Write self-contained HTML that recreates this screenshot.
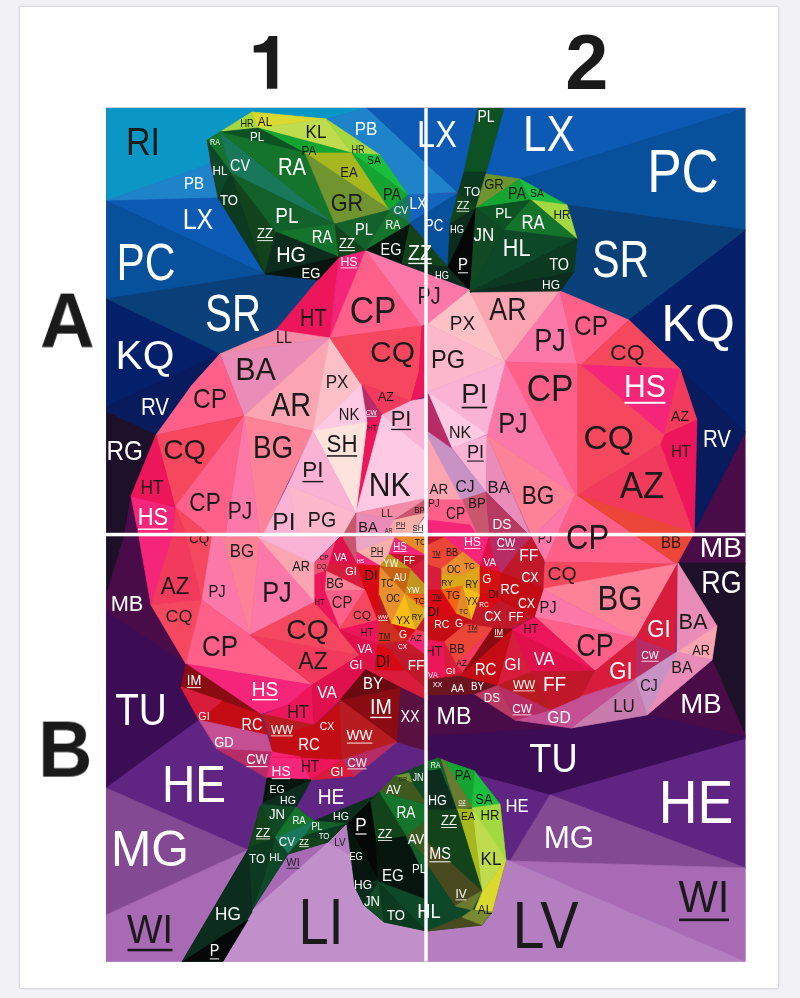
<!DOCTYPE html>
<html><head><meta charset="utf-8"><title>Polygon flower</title>
<style>
html,body{margin:0;padding:0;background:#f1f1f6;}
body{width:800px;height:998px;overflow:hidden;position:relative;font-family:"Liberation Sans",sans-serif;}
#page{position:absolute;left:20px;top:7px;width:758px;height:981px;background:#fff;box-shadow:0 0 2.5px rgba(0,0,40,0.28);}
svg{position:absolute;left:0;top:0;will-change:transform;}
text{font-family:"Liberation Sans",sans-serif;text-anchor:middle;}
.b{font-weight:bold;fill:#1a1a1a;}
</style></head><body>
<div id="page"></div>
<svg width="800" height="998" viewBox="0 0 800 998">
<defs><clipPath id="cl"><rect x="106.2" y="107.8" width="639.1" height="853.6"/></clipPath></defs>
<rect x="106.2" y="107.8" width="639.1" height="853.6" fill="#602583"/>
<g clip-path="url(#cl)">
<polygon points="106,108 256,108 252,112 220,132 207,140 210,164 106,201" fill="#0b97c5" stroke="#0b97c5" stroke-width="0.7" stroke-linejoin="round"/>
<polygon points="250,113 256,108 367,108 326,119" fill="#0b97c5" stroke="#0b97c5" stroke-width="0.7" stroke-linejoin="round"/>
<polygon points="210,164 218,198 106,201" fill="#1e83c9" stroke="#1e83c9" stroke-width="0.7" stroke-linejoin="round"/>
<polygon points="106,201 218,198 265,274" fill="#0d5ab4" stroke="#0d5ab4" stroke-width="0.7" stroke-linejoin="round"/>
<polygon points="106,201 265,274 106,299" fill="#07509b" stroke="#07509b" stroke-width="0.7" stroke-linejoin="round"/>
<polygon points="106,299 265,274 318,280 276,330 220,354" fill="#0a4079" stroke="#0a4079" stroke-width="0.7" stroke-linejoin="round"/>
<polygon points="106,299 220,354 106,407" fill="#05206a" stroke="#05206a" stroke-width="0.7" stroke-linejoin="round"/>
<polygon points="106,407 220,354 192,385 156,435 106,412" fill="#071b5d" stroke="#071b5d" stroke-width="0.7" stroke-linejoin="round"/>
<polygon points="106,412 156,435 131,496 124,537 106,537" fill="#1c1128" stroke="#1c1128" stroke-width="0.7" stroke-linejoin="round"/>
<polygon points="131,496 139,537 124,537" fill="#4a0b49" stroke="#4a0b49" stroke-width="0.7" stroke-linejoin="round"/>
<polygon points="326,119 367,108 457,192 408,195 380,155" fill="#1e83c9" stroke="#1e83c9" stroke-width="0.7" stroke-linejoin="round"/>
<polygon points="367,108 478,108 460,190 457,192" fill="#0d5ab4" stroke="#0d5ab4" stroke-width="0.7" stroke-linejoin="round"/>
<polygon points="408,195 458,193 410,223" fill="#1565bf" stroke="#1565bf" stroke-width="0.7" stroke-linejoin="round"/>
<polygon points="458,193 450,224 448,267 410,223" fill="#07509b" stroke="#07509b" stroke-width="0.7" stroke-linejoin="round"/>
<polygon points="504,108 746,108 520,179 486,174" fill="#0d5ab4" stroke="#0d5ab4" stroke-width="0.7" stroke-linejoin="round"/>
<polygon points="520,179 746,108 746,230 567,205" fill="#07509b" stroke="#07509b" stroke-width="0.7" stroke-linejoin="round"/>
<polygon points="567,205 746,230 629,320 560,291 574,272 577,239" fill="#0a4079" stroke="#0a4079" stroke-width="0.7" stroke-linejoin="round"/>
<polygon points="746,230 746,432 680,369 629,320" fill="#05206a" stroke="#05206a" stroke-width="0.7" stroke-linejoin="round"/>
<polygon points="680,369 746,432 695,532 697,420" fill="#071b5d" stroke="#071b5d" stroke-width="0.7" stroke-linejoin="round"/>
<polygon points="746,432 746,564 678,564 692,536 695,532" fill="#4a0b49" stroke="#4a0b49" stroke-width="0.7" stroke-linejoin="round"/>
<polygon points="678,563 746,563 746,737 712,660 717,626" fill="#1c1128" stroke="#1c1128" stroke-width="0.7" stroke-linejoin="round"/>
<polygon points="647,715 712,660 746,737" fill="#4a0b49" stroke="#4a0b49" stroke-width="0.7" stroke-linejoin="round"/>
<polygon points="426,694 474,694 515,720 570,727 426,737" fill="#4a0b49" stroke="#4a0b49" stroke-width="0.7" stroke-linejoin="round"/>
<polygon points="426,737 570,727 647,715 746,737 746,739 550,795 480,776 438,758 426,762" fill="#3c0d54" stroke="#3c0d54" stroke-width="0.7" stroke-linejoin="round"/>
<polygon points="550,795 746,739 746,868" fill="#602583" stroke="#602583" stroke-width="0.7" stroke-linejoin="round"/>
<polygon points="475,772 480,776 550,795 510,861 500,804" fill="#602583" stroke="#602583" stroke-width="0.7" stroke-linejoin="round"/>
<polygon points="550,795 746,868 510,861" fill="#834a93" stroke="#834a93" stroke-width="0.7" stroke-linejoin="round"/>
<polygon points="510,861 746,868 746,962" fill="#a869b5" stroke="#a869b5" stroke-width="0.7" stroke-linejoin="round"/>
<polygon points="510,861 746,962 426,962 426,920 482,925 492,912 506,860" fill="#b57ec1" stroke="#b57ec1" stroke-width="0.7" stroke-linejoin="round"/>
<polygon points="106,537 124,537 108,590 106,590" fill="#1c1128" stroke="#1c1128" stroke-width="0.7" stroke-linejoin="round"/>
<polygon points="124,537 139,537 151,605 186,664 106,612 106,590 108,590" fill="#4a0b49" stroke="#4a0b49" stroke-width="0.7" stroke-linejoin="round"/>
<polygon points="106,612 186,664 181,687 199,720 106,788" fill="#3c0d54" stroke="#3c0d54" stroke-width="0.7" stroke-linejoin="round"/>
<polygon points="199,720 217,749 267,778 263,803 260,807 249,848 106,788" fill="#602583" stroke="#602583" stroke-width="0.7" stroke-linejoin="round"/>
<polygon points="106,788 248,850 106,915" fill="#834a93" stroke="#834a93" stroke-width="0.7" stroke-linejoin="round"/>
<polygon points="106,915 248,850 182,962 106,962" fill="#a869b5" stroke="#a869b5" stroke-width="0.7" stroke-linejoin="round"/>
<polygon points="222.5,962 252,910 275,868 346,824 352,856 355,887 364,905 384,922 427,931 427,962" fill="#c190ca" stroke="#c190ca" stroke-width="0.7" stroke-linejoin="round"/>
<polygon points="288,854 328,842 252,910 270,872" fill="#a869b5" stroke="#a869b5" stroke-width="0.7" stroke-linejoin="round"/>
<polygon points="328,842 346,824 352,856" fill="#b57ec1" stroke="#b57ec1" stroke-width="0.7" stroke-linejoin="round"/>
<polygon points="311,780 355,776 397,742 428,751 428,764 395,776 379,792 372,797 349,822 314,821 296,807" fill="#602583" stroke="#602583" stroke-width="0.7" stroke-linejoin="round"/>
<polygon points="339,257 318,280 276,330 330,338" fill="#ee165a" stroke="#ee165a" stroke-width="0.7" stroke-linejoin="round"/>
<polygon points="339,257 366,250 330,338" fill="#f5257a" stroke="#f5257a" stroke-width="0.7" stroke-linejoin="round"/>
<polygon points="276,330 330,338 220,354" fill="#f48ca8" stroke="#f48ca8" stroke-width="0.7" stroke-linejoin="round"/>
<polygon points="220,354 330,338 244,416" fill="#e98db8" stroke="#e98db8" stroke-width="0.7" stroke-linejoin="round"/>
<polygon points="330,338 244,416 313,431" fill="#fca5b2" stroke="#fca5b2" stroke-width="0.7" stroke-linejoin="round"/>
<polygon points="330,338 361,384 313,431" fill="#fdc0c6" stroke="#fdc0c6" stroke-width="0.7" stroke-linejoin="round"/>
<polygon points="220,354 244,416 156,435 192,385" fill="#ff608a" stroke="#ff608a" stroke-width="0.7" stroke-linejoin="round"/>
<polygon points="156,435 244,416 175,507" fill="#f5485f" stroke="#f5485f" stroke-width="0.7" stroke-linejoin="round"/>
<polygon points="244,416 313,431 287,484 262,537 260,537" fill="#fd8297" stroke="#fd8297" stroke-width="0.7" stroke-linejoin="round"/>
<polygon points="288,485 300,537 262,537" fill="#fbb3d5" stroke="#fbb3d5" stroke-width="0.7" stroke-linejoin="round"/>
<polygon points="288,485 356,513 342,537 300,537" fill="#fdb7ca" stroke="#fdb7ca" stroke-width="0.7" stroke-linejoin="round"/>
<polygon points="244,416 260,537 225,537" fill="#fc78a8" stroke="#fc78a8" stroke-width="0.7" stroke-linejoin="round"/>
<polygon points="244,416 175,507 212,537 225,537" fill="#ff608a" stroke="#ff608a" stroke-width="0.7" stroke-linejoin="round"/>
<polygon points="175,507 212,537 187,537" fill="#f5485f" stroke="#f5485f" stroke-width="0.7" stroke-linejoin="round"/>
<polygon points="175,507 187,537 172,537" fill="#f23a5c" stroke="#f23a5c" stroke-width="0.7" stroke-linejoin="round"/>
<polygon points="131,496 175,507 172,537 139,537" fill="#f5257a" stroke="#f5257a" stroke-width="0.7" stroke-linejoin="round"/>
<polygon points="156,435 131,496 175,507" fill="#ee165a" stroke="#ee165a" stroke-width="0.7" stroke-linejoin="round"/>
<polygon points="366,250 330,338 422,326" fill="#ff608a" stroke="#ff608a" stroke-width="0.7" stroke-linejoin="round"/>
<polygon points="366,250 402,264 470,290 428,324 422,326" fill="#fc78a8" stroke="#fc78a8" stroke-width="0.7" stroke-linejoin="round"/>
<polygon points="330,338 422,326 419,372 411,401 361,384" fill="#f5485f" stroke="#f5485f" stroke-width="0.7" stroke-linejoin="round"/>
<polygon points="422,326 428,324 428,395 411,401 419,372" fill="#ee165a" stroke="#ee165a" stroke-width="0.7" stroke-linejoin="round"/>
<polygon points="361,384 411,401 382,415" fill="#f23a5c" stroke="#f23a5c" stroke-width="0.7" stroke-linejoin="round"/>
<polygon points="361,384 382,415 367,422" fill="#b82c66" stroke="#b82c66" stroke-width="0.7" stroke-linejoin="round"/>
<polygon points="361,384 367,422 313,431" fill="#fdc9e3" stroke="#fdc9e3" stroke-width="0.7" stroke-linejoin="round"/>
<polygon points="367,422 382,415 356,513" fill="#ee165a" stroke="#ee165a" stroke-width="0.7" stroke-linejoin="round"/>
<polygon points="313,431 367,422 356,513" fill="#fde3dc" stroke="#fde3dc" stroke-width="0.7" stroke-linejoin="round"/>
<polygon points="313,431 356,513 288,485" fill="#fbb3d5" stroke="#fbb3d5" stroke-width="0.7" stroke-linejoin="round"/>
<polygon points="382,415 411,401 428,398 428,452 418,445" fill="#fbb3d5" stroke="#fbb3d5" stroke-width="0.7" stroke-linejoin="round"/>
<polygon points="382,415 418,445 428,452 428,498 356,513" fill="#fdc9e3" stroke="#fdc9e3" stroke-width="0.7" stroke-linejoin="round"/>
<polygon points="356,513 428,498 394,520" fill="#f48ca8" stroke="#f48ca8" stroke-width="0.7" stroke-linejoin="round"/>
<polygon points="428,498 394,520 428,513" fill="#c8566e" stroke="#c8566e" stroke-width="0.7" stroke-linejoin="round"/>
<polygon points="356,513 394,520 384,537 356,537" fill="#e98db8" stroke="#e98db8" stroke-width="0.7" stroke-linejoin="round"/>
<polygon points="356,513 356,537 342,537" fill="#c8566e" stroke="#c8566e" stroke-width="0.7" stroke-linejoin="round"/>
<polygon points="394,520 384,537 395,537" fill="#fca5b2" stroke="#fca5b2" stroke-width="0.7" stroke-linejoin="round"/>
<polygon points="394,520 395,537 410,537 426,513" fill="#f9b0a8" stroke="#f9b0a8" stroke-width="0.7" stroke-linejoin="round"/>
<polygon points="428,513 410,537 428,537" fill="#fde3dc" stroke="#fde3dc" stroke-width="0.7" stroke-linejoin="round"/>
<polygon points="470,290 428,324 505,362" fill="#fdc0c6" stroke="#fdc0c6" stroke-width="0.7" stroke-linejoin="round"/>
<polygon points="428,324 505,362 428,392" fill="#fdb7ca" stroke="#fdb7ca" stroke-width="0.7" stroke-linejoin="round"/>
<polygon points="470,292 560,291 505,362" fill="#fca5b2" stroke="#fca5b2" stroke-width="0.7" stroke-linejoin="round"/>
<polygon points="560,291 577,364 505,362" fill="#fc78a8" stroke="#fc78a8" stroke-width="0.7" stroke-linejoin="round"/>
<polygon points="560,291 629,320 581,365 577,364" fill="#ff608a" stroke="#ff608a" stroke-width="0.7" stroke-linejoin="round"/>
<polygon points="629,320 680,369 581,365" fill="#f5485f" stroke="#f5485f" stroke-width="0.7" stroke-linejoin="round"/>
<polygon points="581,365 680,369 664,435" fill="#f5257a" stroke="#f5257a" stroke-width="0.7" stroke-linejoin="round"/>
<polygon points="680,369 697,420 664,435" fill="#f23a5c" stroke="#f23a5c" stroke-width="0.7" stroke-linejoin="round"/>
<polygon points="664,435 697,420 694,535 660,444" fill="#ee165a" stroke="#ee165a" stroke-width="0.7" stroke-linejoin="round"/>
<polygon points="660,444 694,535 577,495" fill="#f23a5c" stroke="#f23a5c" stroke-width="0.7" stroke-linejoin="round"/>
<polygon points="581,365 664,435 660,444 577,495 577,364" fill="#f5485f" stroke="#f5485f" stroke-width="0.7" stroke-linejoin="round"/>
<polygon points="505,362 577,364 577,495 575,495" fill="#ff608a" stroke="#ff608a" stroke-width="0.7" stroke-linejoin="round"/>
<polygon points="505,362 575,495 487,435" fill="#fc78a8" stroke="#fc78a8" stroke-width="0.7" stroke-linejoin="round"/>
<polygon points="505,362 428,392 487,434" fill="#fbb3d5" stroke="#fbb3d5" stroke-width="0.7" stroke-linejoin="round"/>
<polygon points="428,392 487,434 452,449" fill="#fdc9e3" stroke="#fdc9e3" stroke-width="0.7" stroke-linejoin="round"/>
<polygon points="487,435 486,492 452,448" fill="#fbb3d5" stroke="#fbb3d5" stroke-width="0.7" stroke-linejoin="round"/>
<polygon points="487,435 531,537 486,492" fill="#e98db8" stroke="#e98db8" stroke-width="0.7" stroke-linejoin="round"/>
<polygon points="487,435 575,495 532,537" fill="#fd8297" stroke="#fd8297" stroke-width="0.7" stroke-linejoin="round"/>
<polygon points="428,394 452,449 428,432" fill="#b82c66" stroke="#b82c66" stroke-width="0.7" stroke-linejoin="round"/>
<polygon points="428,432 452,449 486,492 461,500 428,438" fill="#c892c4" stroke="#c892c4" stroke-width="0.7" stroke-linejoin="round"/>
<polygon points="428,438 461,500 428,500" fill="#fca5b2" stroke="#fca5b2" stroke-width="0.7" stroke-linejoin="round"/>
<polygon points="428,500 461,500 428,512" fill="#fc78a8" stroke="#fc78a8" stroke-width="0.7" stroke-linejoin="round"/>
<polygon points="462,500 486,492 490,537 478,537" fill="#c8566e" stroke="#c8566e" stroke-width="0.7" stroke-linejoin="round"/>
<polygon points="486,492 531,537 490,537" fill="#b83a62" stroke="#b83a62" stroke-width="0.7" stroke-linejoin="round"/>
<polygon points="428,500 462,500 478,537 428,537" fill="#ff608a" stroke="#ff608a" stroke-width="0.7" stroke-linejoin="round"/>
<polygon points="428,520 470,525 478,537 428,537" fill="#f5257a" stroke="#f5257a" stroke-width="0.7" stroke-linejoin="round"/>
<polygon points="532,537 575,495 545,562" fill="#fc78a8" stroke="#fc78a8" stroke-width="0.7" stroke-linejoin="round"/>
<polygon points="575,495 577,495 677,564 545,562" fill="#ff608a" stroke="#ff608a" stroke-width="0.7" stroke-linejoin="round"/>
<polygon points="577,495 694,533 677,564" fill="#ec4638" stroke="#ec4638" stroke-width="0.7" stroke-linejoin="round"/>
<polygon points="545,562 677,564 542,589" fill="#f5485f" stroke="#f5485f" stroke-width="0.7" stroke-linejoin="round"/>
<polygon points="542,589 677,564 636,638" fill="#fd8297" stroke="#fd8297" stroke-width="0.7" stroke-linejoin="round"/>
<polygon points="542,589 636,638 535,617" fill="#fc78a8" stroke="#fc78a8" stroke-width="0.7" stroke-linejoin="round"/>
<polygon points="535,617 636,638 595,671" fill="#ff608a" stroke="#ff608a" stroke-width="0.7" stroke-linejoin="round"/>
<polygon points="535,617 512,630 595,671" fill="#ee165a" stroke="#ee165a" stroke-width="0.7" stroke-linejoin="round"/>
<polygon points="512,630 595,671 530,672" fill="#e0104c" stroke="#e0104c" stroke-width="0.7" stroke-linejoin="round"/>
<polygon points="678,563 675,653 636,638" fill="#d81c3c" stroke="#d81c3c" stroke-width="0.7" stroke-linejoin="round"/>
<polygon points="636,638 675,653 635,679" fill="#b82c66" stroke="#b82c66" stroke-width="0.7" stroke-linejoin="round"/>
<polygon points="636,638 635,679 580,697 595,671" fill="#d81c3c" stroke="#d81c3c" stroke-width="0.7" stroke-linejoin="round"/>
<polygon points="678,563 717,626 677,652" fill="#e98db8" stroke="#e98db8" stroke-width="0.7" stroke-linejoin="round"/>
<polygon points="717,626 712,660 677,652" fill="#fca5b2" stroke="#fca5b2" stroke-width="0.7" stroke-linejoin="round"/>
<polygon points="677,652 712,660 647,715 660,680" fill="#e98db8" stroke="#e98db8" stroke-width="0.7" stroke-linejoin="round"/>
<polygon points="635,679 675,653 677,652 647,715" fill="#c892c4" stroke="#c892c4" stroke-width="0.7" stroke-linejoin="round"/>
<polygon points="571,728 635,679 647,715" fill="#c87cae" stroke="#c87cae" stroke-width="0.7" stroke-linejoin="round"/>
<polygon points="515,720 550,710 580,697 635,679 571,728" fill="#c44f92" stroke="#c44f92" stroke-width="0.7" stroke-linejoin="round"/>
<polygon points="530,672 595,671 580,697 550,710" fill="#c01828" stroke="#c01828" stroke-width="0.7" stroke-linejoin="round"/>
<polygon points="497,685 530,672 550,710" fill="#b81c20" stroke="#b81c20" stroke-width="0.7" stroke-linejoin="round"/>
<polygon points="497,685 550,710 515,720" fill="#b82c66" stroke="#b82c66" stroke-width="0.7" stroke-linejoin="round"/>
<polygon points="474,694 497,685 515,720" fill="#b83a62" stroke="#b83a62" stroke-width="0.7" stroke-linejoin="round"/>
<polygon points="512,630 530,672 497,685" fill="#d81c3c" stroke="#d81c3c" stroke-width="0.7" stroke-linejoin="round"/>
<polygon points="512,630 497,685 462,676 490,642" fill="#c40c14" stroke="#c40c14" stroke-width="0.7" stroke-linejoin="round"/>
<polygon points="139,537 172,537 151,605" fill="#f5257a" stroke="#f5257a" stroke-width="0.7" stroke-linejoin="round"/>
<polygon points="172,537 187,537 202,600 151,605" fill="#f23a5c" stroke="#f23a5c" stroke-width="0.7" stroke-linejoin="round"/>
<polygon points="187,537 212,537 202,600" fill="#f5485f" stroke="#f5485f" stroke-width="0.7" stroke-linejoin="round"/>
<polygon points="212,537 222,537 250,635 202,600" fill="#fc78a8" stroke="#fc78a8" stroke-width="0.7" stroke-linejoin="round"/>
<polygon points="222,537 260,537 250,635" fill="#fd8297" stroke="#fd8297" stroke-width="0.7" stroke-linejoin="round"/>
<polygon points="260,537 315,602 250,635" fill="#fc78a8" stroke="#fc78a8" stroke-width="0.7" stroke-linejoin="round"/>
<polygon points="258,537 315,564 315,602" fill="#fca5b2" stroke="#fca5b2" stroke-width="0.7" stroke-linejoin="round"/>
<polygon points="258,537 340,537 315,564" fill="#fbb3d5" stroke="#fbb3d5" stroke-width="0.7" stroke-linejoin="round"/>
<polygon points="151,605 202,600 186,664" fill="#f5485f" stroke="#f5485f" stroke-width="0.7" stroke-linejoin="round"/>
<polygon points="202,600 250,635 313,685 186,664" fill="#ff608a" stroke="#ff608a" stroke-width="0.7" stroke-linejoin="round"/>
<polygon points="250,635 360,655 313,685" fill="#f23a5c" stroke="#f23a5c" stroke-width="0.7" stroke-linejoin="round"/>
<polygon points="315,602 250,635 360,655 340,630" fill="#f5485f" stroke="#f5485f" stroke-width="0.7" stroke-linejoin="round"/>
<polygon points="186,664 312,685 287,705 260,714" fill="#f5257a" stroke="#f5257a" stroke-width="0.7" stroke-linejoin="round"/>
<polygon points="186,664 181,687 260,714" fill="#8a0c12" stroke="#8a0c12" stroke-width="0.7" stroke-linejoin="round"/>
<polygon points="287,705 312,685 314,725 262,715" fill="#ee165a" stroke="#ee165a" stroke-width="0.7" stroke-linejoin="round"/>
<polygon points="312,685 360,655 366,669 340,700 314,725" fill="#e0104c" stroke="#e0104c" stroke-width="0.7" stroke-linejoin="round"/>
<polygon points="262,714 314,725 270,737" fill="#b81c20" stroke="#b81c20" stroke-width="0.7" stroke-linejoin="round"/>
<polygon points="181,687 260,714 267,735 199,720" fill="#c40c14" stroke="#c40c14" stroke-width="0.7" stroke-linejoin="round"/>
<polygon points="181,687 222,701 199,720" fill="#d81c3c" stroke="#d81c3c" stroke-width="0.7" stroke-linejoin="round"/>
<polygon points="270,737 314,725 340,702 342,760 272,757" fill="#c40c14" stroke="#c40c14" stroke-width="0.7" stroke-linejoin="round"/>
<polygon points="199,720 267,735 272,752 217,749" fill="#c44f92" stroke="#c44f92" stroke-width="0.7" stroke-linejoin="round"/>
<polygon points="217,749 272,752 267,778" fill="#b82c66" stroke="#b82c66" stroke-width="0.7" stroke-linejoin="round"/>
<polygon points="272,752 300,757 311,780 267,778" fill="#f5257a" stroke="#f5257a" stroke-width="0.7" stroke-linejoin="round"/>
<polygon points="272,757 342,760 311,780 300,757" fill="#ee165a" stroke="#ee165a" stroke-width="0.7" stroke-linejoin="round"/>
<polygon points="342,760 355,776 311,780" fill="#d81c3c" stroke="#d81c3c" stroke-width="0.7" stroke-linejoin="round"/>
<polygon points="340,700 401,687 397,742" fill="#8a0c12" stroke="#8a0c12" stroke-width="0.7" stroke-linejoin="round"/>
<polygon points="366,669 401,687 340,700" fill="#6a0a10" stroke="#6a0a10" stroke-width="0.7" stroke-linejoin="round"/>
<polygon points="340,700 397,742 342,760" fill="#b81c20" stroke="#b81c20" stroke-width="0.7" stroke-linejoin="round"/>
<polygon points="342,760 397,742 355,776" fill="#b82c66" stroke="#b82c66" stroke-width="0.7" stroke-linejoin="round"/>
<polygon points="401,685 428,690 428,751 397,742" fill="#5a1040" stroke="#5a1040" stroke-width="0.7" stroke-linejoin="round"/>
<polygon points="340,537 428,537 428,700 401,687 366,669 360,655 340,630 315,602 315,562" fill="#d81c3c" stroke="#d81c3c" stroke-width="0.7" stroke-linejoin="round"/>
<polygon points="336,541 315,562 329,564" fill="#ec4a7c" stroke="#ec4a7c" stroke-width="0.7" stroke-linejoin="round"/>
<polygon points="315,562 329,564 326,571 315,575" fill="#ec5070" stroke="#ec5070" stroke-width="0.7" stroke-linejoin="round"/>
<polygon points="342,537 356,537 357,564" fill="#c8566e" stroke="#c8566e" stroke-width="0.7" stroke-linejoin="round"/>
<polygon points="336,541 340,537 342,537 357,564 329,564" fill="#e0104c" stroke="#e0104c" stroke-width="0.7" stroke-linejoin="round"/>
<polygon points="329,564 357.5,564.5 365,590 326,571" fill="#d81c3c" stroke="#d81c3c" stroke-width="0.7" stroke-linejoin="round"/>
<polygon points="356,537 395,537 357,552" fill="#eba6c6" stroke="#eba6c6" stroke-width="0.7" stroke-linejoin="round"/>
<polygon points="395,537 357,552 380,566 389,554" fill="#f9b0a8" stroke="#f9b0a8" stroke-width="0.7" stroke-linejoin="round"/>
<polygon points="357,552 380,566 357,565" fill="#f5257a" stroke="#f5257a" stroke-width="0.7" stroke-linejoin="round"/>
<polygon points="357.5,564.5 380.5,566 378,622 365,590" fill="#d80814" stroke="#d80814" stroke-width="0.7" stroke-linejoin="round"/>
<polygon points="395,537 428,556 389,554" fill="#f5257a" stroke="#f5257a" stroke-width="0.7" stroke-linejoin="round"/>
<polygon points="395,537 428,537 428,556" fill="#e48a28" stroke="#e48a28" stroke-width="0.7" stroke-linejoin="round"/>
<polygon points="389,554 428,556 411,569" fill="#c01828" stroke="#c01828" stroke-width="0.7" stroke-linejoin="round"/>
<polygon points="389,554 411,569 380,566" fill="#c29420" stroke="#c29420" stroke-width="0.7" stroke-linejoin="round"/>
<polygon points="380,567 411,569 405,594" fill="#c86412" stroke="#c86412" stroke-width="0.7" stroke-linejoin="round"/>
<polygon points="380,567 405,594 391,624 379,595" fill="#e89030" stroke="#e89030" stroke-width="0.7" stroke-linejoin="round"/>
<polygon points="411,569 424,583 428,594 405,594" fill="#c29420" stroke="#c29420" stroke-width="0.7" stroke-linejoin="round"/>
<polygon points="428,556 411,569 424,583 428,583" fill="#d81c3c" stroke="#d81c3c" stroke-width="0.7" stroke-linejoin="round"/>
<polygon points="405,594 428,595 428,612" fill="#f56412" stroke="#f56412" stroke-width="0.7" stroke-linejoin="round"/>
<polygon points="405,594 391,624 416,630" fill="#f8bc18" stroke="#f8bc18" stroke-width="0.7" stroke-linejoin="round"/>
<polygon points="405,594 428,612 416,630" fill="#dca81a" stroke="#dca81a" stroke-width="0.7" stroke-linejoin="round"/>
<polygon points="428,612 416,630 428,633" fill="#c41c2c" stroke="#c41c2c" stroke-width="0.7" stroke-linejoin="round"/>
<polygon points="379,595 391,624 378,620" fill="#b81c20" stroke="#b81c20" stroke-width="0.7" stroke-linejoin="round"/>
<polygon points="391,624 416,630 407,641" fill="#d41010" stroke="#d41010" stroke-width="0.7" stroke-linejoin="round"/>
<polygon points="416,630 428,633 428,640 407,641" fill="#f23a5c" stroke="#f23a5c" stroke-width="0.7" stroke-linejoin="round"/>
<polygon points="378,620 391,624 407,641 378,644" fill="#d03020" stroke="#d03020" stroke-width="0.7" stroke-linejoin="round"/>
<polygon points="378,644 407,641 428,656 390,650" fill="#c41c2c" stroke="#c41c2c" stroke-width="0.7" stroke-linejoin="round"/>
<polygon points="407,641 428,640 428,656" fill="#f5257a" stroke="#f5257a" stroke-width="0.7" stroke-linejoin="round"/>
<polygon points="376,644 390,650 405,670 374,670" fill="#d80814" stroke="#d80814" stroke-width="0.7" stroke-linejoin="round"/>
<polygon points="390,650 428,656 428,690 405,670" fill="#c01828" stroke="#c01828" stroke-width="0.7" stroke-linejoin="round"/>
<polygon points="326,571 365,590 324.5,591" fill="#fd8297" stroke="#fd8297" stroke-width="0.7" stroke-linejoin="round"/>
<polygon points="324.5,591 365,590 339.4,629" fill="#ff608a" stroke="#ff608a" stroke-width="0.7" stroke-linejoin="round"/>
<polygon points="365,590 378,622 339.4,629" fill="#f5485f" stroke="#f5485f" stroke-width="0.7" stroke-linejoin="round"/>
<polygon points="339,630 378,620 377,644" fill="#ee165a" stroke="#ee165a" stroke-width="0.7" stroke-linejoin="round"/>
<polygon points="339,630 377,644 374,670 361,657" fill="#e0104c" stroke="#e0104c" stroke-width="0.7" stroke-linejoin="round"/>
<polygon points="315,575 326,571 324.5,591 339.4,629 315,603" fill="#ee165a" stroke="#ee165a" stroke-width="0.7" stroke-linejoin="round"/>
<polygon points="428,537 531,537 544,560 543,590 534,617 513,628 490,642 462,676 428,680" fill="#c01828" stroke="#c01828" stroke-width="0.7" stroke-linejoin="round"/>
<polygon points="428,680 462,676 497,685 474,694 428,695" fill="#6c1420" stroke="#6c1420" stroke-width="0.7" stroke-linejoin="round"/>
<polygon points="428,545 445,537 463,552 441,569 428,565" fill="#ec4638" stroke="#ec4638" stroke-width="0.7" stroke-linejoin="round"/>
<polygon points="445,537 489,537 480,566 463,552" fill="#f5257a" stroke="#f5257a" stroke-width="0.7" stroke-linejoin="round"/>
<polygon points="489,537 531,537 516,553 501,573 492,553" fill="#b82c66" stroke="#b82c66" stroke-width="0.7" stroke-linejoin="round"/>
<polygon points="489,537 492,553 501,573 480,566" fill="#e0104c" stroke="#e0104c" stroke-width="0.7" stroke-linejoin="round"/>
<polygon points="463,552 467,576 441,574 441,569" fill="#e89030" stroke="#e89030" stroke-width="0.7" stroke-linejoin="round"/>
<polygon points="463,552 480,566 466,573" fill="#e48a28" stroke="#e48a28" stroke-width="0.7" stroke-linejoin="round"/>
<polygon points="441,574 467,576 462,588 441,590" fill="#dca81a" stroke="#dca81a" stroke-width="0.7" stroke-linejoin="round"/>
<polygon points="466,573 480,566 480,594 463,587" fill="#dca81a" stroke="#dca81a" stroke-width="0.7" stroke-linejoin="round"/>
<polygon points="441,590 462,586 460,611 456,614" fill="#f56412" stroke="#f56412" stroke-width="0.7" stroke-linejoin="round"/>
<polygon points="463,587 480,594 471,620 466,600" fill="#f8bc18" stroke="#f8bc18" stroke-width="0.7" stroke-linejoin="round"/>
<polygon points="462,586 466,600 471,620 456,614" fill="#e48a28" stroke="#e48a28" stroke-width="0.7" stroke-linejoin="round"/>
<polygon points="480,566 501,573 498,593 480,594" fill="#d41010" stroke="#d41010" stroke-width="0.7" stroke-linejoin="round"/>
<polygon points="428,565 441,569 441,590 428,590" fill="#d81c3c" stroke="#d81c3c" stroke-width="0.7" stroke-linejoin="round"/>
<polygon points="428,590 441,590 456,614 428,625" fill="#d80814" stroke="#d80814" stroke-width="0.7" stroke-linejoin="round"/>
<polygon points="428,625 456,614 471,620 450,640 428,645" fill="#c40c14" stroke="#c40c14" stroke-width="0.7" stroke-linejoin="round"/>
<polygon points="444,642 466,624 493,628 456,664" fill="#ec4638" stroke="#ec4638" stroke-width="0.7" stroke-linejoin="round"/>
<polygon points="428,640 444,642 446,676 428,678" fill="#ee165a" stroke="#ee165a" stroke-width="0.7" stroke-linejoin="round"/>
<polygon points="444,642 456,664 463,672 446,676" fill="#d81c3c" stroke="#d81c3c" stroke-width="0.7" stroke-linejoin="round"/>
<polygon points="493,628 463,672 456,664" fill="#f23a5c" stroke="#f23a5c" stroke-width="0.7" stroke-linejoin="round"/>
<polygon points="512,630 497,685 462,676 463,672 493,628" fill="#c40c14" stroke="#c40c14" stroke-width="0.7" stroke-linejoin="round"/>
<polygon points="493,628 512,629 464,672" fill="#8a0c12" stroke="#8a0c12" stroke-width="0.7" stroke-linejoin="round"/>
<polygon points="501,573 543,588 534,617 500,600" fill="#c40c14" stroke="#c40c14" stroke-width="0.7" stroke-linejoin="round"/>
<polygon points="480,594 498,593 500,600 484,612" fill="#d80814" stroke="#d80814" stroke-width="0.7" stroke-linejoin="round"/>
<polygon points="438,758 427,763 395,776 379,792 370,800 347,824 355,887 364,905 384,922 427,931 482,925 492,912 506,860 500,804 475,772 445,761" fill="#0d4828" stroke="#0d4828" stroke-width="0.7" stroke-linejoin="round"/>
<polygon points="267,778 311,780 296,807 314,821 372,797 349,822 346,824 328,842 288,854 252,910 222.5,962 182,962 248,850 260,807 263,803" fill="#0b3a20" stroke="#0b3a20" stroke-width="0.7" stroke-linejoin="round"/>
<polygon points="220,132 252,112 258,128" fill="#a3d840" stroke="#a3d840" stroke-width="0.7" stroke-linejoin="round"/>
<polygon points="252,112 326,119 258,128" fill="#dbd92e" stroke="#dbd92e" stroke-width="0.7" stroke-linejoin="round"/>
<polygon points="258,128 326,119 352,153" fill="#bfdc4e" stroke="#bfdc4e" stroke-width="0.7" stroke-linejoin="round"/>
<polygon points="326,119 380,155 352,153" fill="#a3d840" stroke="#a3d840" stroke-width="0.7" stroke-linejoin="round"/>
<polygon points="258,128 352,153 305,153" fill="#13a432" stroke="#13a432" stroke-width="0.7" stroke-linejoin="round"/>
<polygon points="220,132 258,128 305,153" fill="#0d5222" stroke="#0d5222" stroke-width="0.7" stroke-linejoin="round"/>
<polygon points="207,140 220,132 231,173" fill="#15742b" stroke="#15742b" stroke-width="0.7" stroke-linejoin="round"/>
<polygon points="220,132 231,173 335,224" fill="#19775a" stroke="#19775a" stroke-width="0.7" stroke-linejoin="round"/>
<polygon points="220,132 305,153 335,224" fill="#15742b" stroke="#15742b" stroke-width="0.7" stroke-linejoin="round"/>
<polygon points="305,153 352,153 390,210" fill="#a6b81e" stroke="#a6b81e" stroke-width="0.7" stroke-linejoin="round"/>
<polygon points="305,153 390,210 335,224" fill="#6f9430" stroke="#6f9430" stroke-width="0.7" stroke-linejoin="round"/>
<polygon points="352,153 380,155 408,195" fill="#1bbe3e" stroke="#1bbe3e" stroke-width="0.7" stroke-linejoin="round"/>
<polygon points="352,153 408,195 390,210" fill="#13a432" stroke="#13a432" stroke-width="0.7" stroke-linejoin="round"/>
<polygon points="207,140 231,173 218,198" fill="#0d4828" stroke="#0d4828" stroke-width="0.7" stroke-linejoin="round"/>
<polygon points="231,173 218,198 265,274" fill="#0b3a20" stroke="#0b3a20" stroke-width="0.7" stroke-linejoin="round"/>
<polygon points="231,173 265,274 276,232" fill="#12431a" stroke="#12431a" stroke-width="0.7" stroke-linejoin="round"/>
<polygon points="231,173 276,232 335,224" fill="#12602a" stroke="#12602a" stroke-width="0.7" stroke-linejoin="round"/>
<polygon points="276,232 335,224 339,257" fill="#15742b" stroke="#15742b" stroke-width="0.7" stroke-linejoin="round"/>
<polygon points="276,232 339,257 265,274" fill="#0c2c1e" stroke="#0c2c1e" stroke-width="0.7" stroke-linejoin="round"/>
<polygon points="265,274 339,257 318,280" fill="#07150f" stroke="#07150f" stroke-width="0.7" stroke-linejoin="round"/>
<polygon points="335,224 339,257 366,250" fill="#12431a" stroke="#12431a" stroke-width="0.7" stroke-linejoin="round"/>
<polygon points="335,224 390,210 366,250" fill="#12602a" stroke="#12602a" stroke-width="0.7" stroke-linejoin="round"/>
<polygon points="390,210 410,224 366,250" fill="#15742b" stroke="#15742b" stroke-width="0.7" stroke-linejoin="round"/>
<polygon points="366,250 410,224 402,264" fill="#07150f" stroke="#07150f" stroke-width="0.7" stroke-linejoin="round"/>
<polygon points="408,195 410,223 390,210" fill="#19775a" stroke="#19775a" stroke-width="0.7" stroke-linejoin="round"/>
<polygon points="410,224 448,267 402,264" fill="#12431a" stroke="#12431a" stroke-width="0.7" stroke-linejoin="round"/>
<polygon points="402,264 448,267 470,289" fill="#0c2c1e" stroke="#0c2c1e" stroke-width="0.7" stroke-linejoin="round"/>
<polygon points="478,108 504,108 486,172 464,172" fill="#0d5222" stroke="#0d5222" stroke-width="0.7" stroke-linejoin="round"/>
<polygon points="464,172 486,172 476,208 458,193" fill="#0b3a20" stroke="#0b3a20" stroke-width="0.7" stroke-linejoin="round"/>
<polygon points="458,193 476,208 450,224" fill="#12431a" stroke="#12431a" stroke-width="0.7" stroke-linejoin="round"/>
<polygon points="476,208 450,224 448,267" fill="#0c2c1e" stroke="#0c2c1e" stroke-width="0.7" stroke-linejoin="round"/>
<polygon points="476,208 448,267 470,290" fill="#050806" stroke="#050806" stroke-width="0.7" stroke-linejoin="round"/>
<polygon points="486,174 520,179 476,208" fill="#6f9430" stroke="#6f9430" stroke-width="0.7" stroke-linejoin="round"/>
<polygon points="520,179 476,208 531,200" fill="#13a432" stroke="#13a432" stroke-width="0.7" stroke-linejoin="round"/>
<polygon points="520,179 531,200 567,205" fill="#1bbe3e" stroke="#1bbe3e" stroke-width="0.7" stroke-linejoin="round"/>
<polygon points="531,200 567,205 577,239" fill="#a3d840" stroke="#a3d840" stroke-width="0.7" stroke-linejoin="round"/>
<polygon points="476,208 531,200 504,230" fill="#0d5222" stroke="#0d5222" stroke-width="0.7" stroke-linejoin="round"/>
<polygon points="531,200 504,230 577,239" fill="#15742b" stroke="#15742b" stroke-width="0.7" stroke-linejoin="round"/>
<polygon points="476,208 504,230 470,292" fill="#0f4a24" stroke="#0f4a24" stroke-width="0.7" stroke-linejoin="round"/>
<polygon points="504,230 577,239 470,292" fill="#0d4828" stroke="#0d4828" stroke-width="0.7" stroke-linejoin="round"/>
<polygon points="577,239 574,272 470,292" fill="#0b3a20" stroke="#0b3a20" stroke-width="0.7" stroke-linejoin="round"/>
<polygon points="574,272 560,291 470,292" fill="#0c2c1e" stroke="#0c2c1e" stroke-width="0.7" stroke-linejoin="round"/>
<polygon points="267,778 311,780 263,803" fill="#07150f" stroke="#07150f" stroke-width="0.7" stroke-linejoin="round"/>
<polygon points="311,780 263,803 296,807" fill="#0c2c1e" stroke="#0c2c1e" stroke-width="0.7" stroke-linejoin="round"/>
<polygon points="261,805 296,807 275,838" fill="#0f4a24" stroke="#0f4a24" stroke-width="0.7" stroke-linejoin="round"/>
<polygon points="260,807 275,838 249,848" fill="#12431a" stroke="#12431a" stroke-width="0.7" stroke-linejoin="round"/>
<polygon points="296,807 314,821 275,838" fill="#15742b" stroke="#15742b" stroke-width="0.7" stroke-linejoin="round"/>
<polygon points="314,821 372,797 349,822" fill="#0c2c1e" stroke="#0c2c1e" stroke-width="0.7" stroke-linejoin="round"/>
<polygon points="314,821 346,824 304,836" fill="#12602a" stroke="#12602a" stroke-width="0.7" stroke-linejoin="round"/>
<polygon points="304,836 346,824 328,842" fill="#0b3a20" stroke="#0b3a20" stroke-width="0.7" stroke-linejoin="round"/>
<polygon points="275,838 314,821 304,836 288,854" fill="#19775a" stroke="#19775a" stroke-width="0.7" stroke-linejoin="round"/>
<polygon points="304,836 328,842 288,854" fill="#12431a" stroke="#12431a" stroke-width="0.7" stroke-linejoin="round"/>
<polygon points="275,838 288,854 252,910 262,882" fill="#0d4828" stroke="#0d4828" stroke-width="0.7" stroke-linejoin="round"/>
<polygon points="249,848 275,838 262,882 252,910" fill="#0b3a20" stroke="#0b3a20" stroke-width="0.7" stroke-linejoin="round"/>
<polygon points="248,850 252,912 222.5,962 182,962" fill="#0c2c1e" stroke="#0c2c1e" stroke-width="0.7" stroke-linejoin="round"/>
<polygon points="248,920 222.5,962 182,962" fill="#050806" stroke="#050806" stroke-width="0.7" stroke-linejoin="round"/>
<polygon points="409,773 427,763 427,804 412,783" fill="#0f4a24" stroke="#0f4a24" stroke-width="0.7" stroke-linejoin="round"/>
<polygon points="395,776 409,773 412,783" fill="#6f9430" stroke="#6f9430" stroke-width="0.7" stroke-linejoin="round"/>
<polygon points="395,776 412,783 427,804 379,792" fill="#3e5a20" stroke="#3e5a20" stroke-width="0.7" stroke-linejoin="round"/>
<polygon points="379,792 427,805 427,822 406,836" fill="#15742b" stroke="#15742b" stroke-width="0.7" stroke-linejoin="round"/>
<polygon points="370,800 379,792 377,810" fill="#07150f" stroke="#07150f" stroke-width="0.7" stroke-linejoin="round"/>
<polygon points="370,801 379,792 406,836 376,842" fill="#12431a" stroke="#12431a" stroke-width="0.7" stroke-linejoin="round"/>
<polygon points="347,824 370,801 376,842 378,880" fill="#050806" stroke="#050806" stroke-width="0.7" stroke-linejoin="round"/>
<polygon points="347,824 378,880 355,887" fill="#07150f" stroke="#07150f" stroke-width="0.7" stroke-linejoin="round"/>
<polygon points="406,836 427,820 427,860" fill="#3e5a20" stroke="#3e5a20" stroke-width="0.7" stroke-linejoin="round"/>
<polygon points="376,842 406,836 427,880 427,900 379,882" fill="#07150f" stroke="#07150f" stroke-width="0.7" stroke-linejoin="round"/>
<polygon points="406,836 427,860 427,880" fill="#12602a" stroke="#12602a" stroke-width="0.7" stroke-linejoin="round"/>
<polygon points="355,887 379,882 364,905" fill="#0c2c1e" stroke="#0c2c1e" stroke-width="0.7" stroke-linejoin="round"/>
<polygon points="364,905 379,882 384,922" fill="#0f4a24" stroke="#0f4a24" stroke-width="0.7" stroke-linejoin="round"/>
<polygon points="379,882 384,922 427,931 405,900" fill="#0b3a20" stroke="#0b3a20" stroke-width="0.7" stroke-linejoin="round"/>
<polygon points="379,882 427,900 455,905 427,931" fill="#0d4828" stroke="#0d4828" stroke-width="0.7" stroke-linejoin="round"/>
<polygon points="427,762 438,758 443,766 430,772" fill="#15742b" stroke="#15742b" stroke-width="0.7" stroke-linejoin="round"/>
<polygon points="427,771 441,770 457,809 427,810" fill="#0c2c1e" stroke="#0c2c1e" stroke-width="0.7" stroke-linejoin="round"/>
<polygon points="438,758 441,759 457,808 441,770" fill="#12602a" stroke="#12602a" stroke-width="0.7" stroke-linejoin="round"/>
<polygon points="441,759 446,761 473,807 457,809" fill="#6a7a30" stroke="#6a7a30" stroke-width="0.7" stroke-linejoin="round"/>
<polygon points="445,761 475,771 473,807" fill="#13a432" stroke="#13a432" stroke-width="0.7" stroke-linejoin="round"/>
<polygon points="475,772 500,804 472,808" fill="#1bbe3e" stroke="#1bbe3e" stroke-width="0.7" stroke-linejoin="round"/>
<polygon points="472,808 500,804 506,860 480,825" fill="#a3d840" stroke="#a3d840" stroke-width="0.7" stroke-linejoin="round"/>
<polygon points="472,809 506,860 482,892" fill="#bfdc4e" stroke="#bfdc4e" stroke-width="0.7" stroke-linejoin="round"/>
<polygon points="457,809 472,809 482,892" fill="#a6b81e" stroke="#a6b81e" stroke-width="0.7" stroke-linejoin="round"/>
<polygon points="482,892 506,860 492,912 475,910" fill="#dbd92e" stroke="#dbd92e" stroke-width="0.7" stroke-linejoin="round"/>
<polygon points="427,810 457,810 482,891 427,842" fill="#12431a" stroke="#12431a" stroke-width="0.7" stroke-linejoin="round"/>
<polygon points="427,842 482,891 455,906 427,865" fill="#4a4a20" stroke="#4a4a20" stroke-width="0.7" stroke-linejoin="round"/>
<polygon points="482,891 455,906 472,910" fill="#6a7a30" stroke="#6a7a30" stroke-width="0.7" stroke-linejoin="round"/>
<polygon points="427,865 455,906 427,900" fill="#0d4828" stroke="#0d4828" stroke-width="0.7" stroke-linejoin="round"/>
<polygon points="427,900 455,906 462,917 427,931" fill="#0d4828" stroke="#0d4828" stroke-width="0.7" stroke-linejoin="round"/>
<polygon points="427,931 462,917 482,925" fill="#4a4a20" stroke="#4a4a20" stroke-width="0.7" stroke-linejoin="round"/>
<polygon points="462,917 472,910 492,912 482,925" fill="#7a8a30" stroke="#7a8a30" stroke-width="0.7" stroke-linejoin="round"/>
</g>
<text transform="translate(143,154.5) scale(0.87,1)" font-size="39.2" fill="#1a1a1a">RI</text>
<text transform="translate(194,188.8) scale(0.9,1)" font-size="16.7" fill="#ffffff">PB</text>
<text transform="translate(198,229.0) scale(0.86,1)" font-size="29.1" fill="#ffffff">LX</text>
<text transform="translate(146,279.5) scale(0.835,1)" font-size="50.9" fill="#ffffff">PC</text>
<text transform="translate(233,330.5) scale(0.79,1)" font-size="50.9" fill="#ffffff">SR</text>
<text transform="translate(145,369.0) scale(1.0,1)" font-size="40.7" fill="#ffffff">KQ</text>
<text transform="translate(155,415.0) scale(0.88,1)" font-size="23.3" fill="#ffffff">RV</text>
<text transform="translate(124.75,459.8) scale(0.86,1)" font-size="28.3" fill="#ffffff">RG</text>
<text transform="translate(366,134.5) scale(0.9,1)" font-size="18.9" fill="#ffffff">PB</text>
<text transform="translate(437,147.0) scale(0.86,1)" font-size="37.8" fill="#ffffff">LX</text>
<text transform="translate(316,137.5) scale(0.9,1)" font-size="18.9" fill="#1a1a1a">KL</text>
<text transform="translate(292,174.5) scale(0.82,1)" font-size="24.7" fill="#ffffff">RA</text>
<text transform="translate(347,211.2) scale(0.9,1)" font-size="24.0" fill="#1a1a1a">GR</text>
<text transform="translate(349,177.0) scale(0.9,1)" font-size="14.5" fill="#1a1a1a">EA</text>
<text transform="translate(287,222.5) scale(0.88,1)" font-size="21.8" fill="#ffffff">PL</text>
<text transform="translate(291,261.5) scale(0.91,1)" font-size="21.8" fill="#ffffff">HG</text>
<text transform="translate(322,243.2) scale(0.82,1)" font-size="18.2" fill="#ffffff">RA</text>
<text transform="translate(364,234.8) scale(0.88,1)" font-size="16.7" fill="#ffffff">PL</text>
<text transform="translate(240,170.5) scale(0.9,1)" font-size="16.0" fill="#ffffff">CV</text>
<text transform="translate(220,174.5) scale(0.9,1)" font-size="13.1" fill="#ffffff">HL</text>
<text transform="translate(229,205.0) scale(0.9,1)" font-size="14.5" fill="#ffffff">TO</text>
<text transform="translate(265,238.0) scale(0.9,1)" font-size="14.5" fill="#ffffff">ZZ</text>
<rect x="257.2" y="240.2" width="15.7" height="0.9" fill="#ffffff"/>
<text transform="translate(311,278.0) scale(0.9,1)" font-size="14.5" fill="#ffffff">EG</text>
<text transform="translate(265,125.5) scale(0.9,1)" font-size="13.1" fill="#1a1a1a">AL</text>
<text transform="translate(247,126.5) scale(0.9,1)" font-size="10.2" fill="#1a1a1a">HR</text>
<text transform="translate(257,140.5) scale(0.88,1)" font-size="13.1" fill="#ffffff">PL</text>
<text transform="translate(309,154.5) scale(0.9,1)" font-size="13.1" fill="#1a1a1a">PA</text>
<text transform="translate(358,152.5) scale(0.9,1)" font-size="10.2" fill="#1a1a1a">HR</text>
<text transform="translate(374,164.0) scale(0.9,1)" font-size="11.6" fill="#1a1a1a">SA</text>
<text transform="translate(392,199.5) scale(0.9,1)" font-size="16.0" fill="#1a1a1a">PA</text>
<text transform="translate(347,248.0) scale(0.9,1)" font-size="14.5" fill="#ffffff">ZZ</text>
<rect x="339.2" y="250.2" width="15.7" height="0.9" fill="#ffffff"/>
<text transform="translate(349,265.5) scale(0.94,1)" font-size="13.1" fill="#ffffff">HS</text>
<rect x="340.6" y="267.5" width="16.7" height="0.8" fill="#ffffff"/>
<text transform="translate(391,254.5) scale(0.9,1)" font-size="16.0" fill="#ffffff">EG</text>
<text transform="translate(420,259.5) scale(0.9,1)" font-size="21.8" fill="#ffffff">ZZ</text>
<rect x="408.3" y="262.8" width="23.5" height="1.3" fill="#ffffff"/>
<text transform="translate(418,208.5) scale(0.86,1)" font-size="16.0" fill="#ffffff">LX</text>
<text transform="translate(401,214.0) scale(0.9,1)" font-size="11.6" fill="#ffffff">CV</text>
<text transform="translate(393,228.5) scale(0.82,1)" font-size="13.1" fill="#ffffff">RA</text>
<text transform="translate(434,230.5) scale(0.835,1)" font-size="16.0" fill="#ffffff">PC</text>
<text transform="translate(215,145.0) scale(0.82,1)" font-size="8.7" fill="#ffffff">RA</text>
<text transform="translate(313.3,326.0) scale(0.85,1)" font-size="23.3" fill="#1a1a1a">HT</text>
<text transform="translate(373,323.0) scale(0.89,1)" font-size="37.8" fill="#1a1a1a">CP</text>
<text transform="translate(392.5,361.5) scale(1.03,1)" font-size="29.1" fill="#1a1a1a">CQ</text>
<text transform="translate(284,342.5) scale(0.9,1)" font-size="16.0" fill="#1a1a1a">LL</text>
<text transform="translate(255.6,379.9) scale(1.0,1)" font-size="30.5" fill="#1a1a1a">BA</text>
<text transform="translate(291,416.2) scale(0.88,1)" font-size="32.7" fill="#1a1a1a">AR</text>
<text transform="translate(337,387.5) scale(0.9,1)" font-size="18.9" fill="#1a1a1a">PX</text>
<text transform="translate(349,419.5) scale(0.92,1)" font-size="16.0" fill="#1a1a1a">NK</text>
<text transform="translate(210,407.5) scale(0.89,1)" font-size="27.6" fill="#1a1a1a">CP</text>
<text transform="translate(184.5,459.0) scale(1.03,1)" font-size="27.6" fill="#1a1a1a">CQ</text>
<text transform="translate(273,457.8) scale(0.89,1)" font-size="31.3" fill="#1a1a1a">BG</text>
<text transform="translate(342,451.5) scale(0.9,1)" font-size="24.7" fill="#1a1a1a">SH</text>
<rect x="326.9" y="455.2" width="30.3" height="1.5" fill="#1a1a1a"/>
<text transform="translate(401,425.5) scale(1.0,1)" font-size="21.8" fill="#1a1a1a">PI</text>
<rect x="390.9" y="428.8" width="20.2" height="1.3" fill="#1a1a1a"/>
<text transform="translate(386,400.5) scale(0.96,1)" font-size="13.1" fill="#1a1a1a">AZ</text>
<text transform="translate(312.8,477.4) scale(1.0,1)" font-size="22.5" fill="#1a1a1a">PI</text>
<rect x="302.4" y="480.9" width="20.9" height="1.4" fill="#1a1a1a"/>
<text transform="translate(389.7,496.2) scale(0.92,1)" font-size="32.7" fill="#1a1a1a">NK</text>
<text transform="translate(152,494.0) scale(0.85,1)" font-size="20.3" fill="#1a1a1a">HT</text>
<text transform="translate(153,525.0) scale(0.94,1)" font-size="23.3" fill="#ffffff">HS</text>
<rect x="138.1" y="528.5" width="29.8" height="1.4" fill="#ffffff"/>
<text transform="translate(205,511.2) scale(0.89,1)" font-size="25.4" fill="#1a1a1a">CP</text>
<text transform="translate(240,518.5) scale(0.85,1)" font-size="24.7" fill="#1a1a1a">PJ</text>
<text transform="translate(284,529.5) scale(1.0,1)" font-size="24.7" fill="#1a1a1a">PI</text>
<text transform="translate(322,526.5) scale(0.9,1)" font-size="21.8" fill="#1a1a1a">PG</text>
<text transform="translate(387,517.0) scale(0.9,1)" font-size="11.6" fill="#1a1a1a">LL</text>
<text transform="translate(368,532.0) scale(1.0,1)" font-size="14.5" fill="#1a1a1a">BA</text>
<text transform="translate(429,304.0) scale(0.85,1)" font-size="23.3" fill="#1a1a1a">PJ</text>
<text transform="translate(371.3,414.7) scale(0.9,1)" font-size="7.3" fill="#ffffff">CW</text>
<rect x="366.0" y="415.8" width="10.7" height="0.8" fill="#ffffff"/>
<text transform="translate(372,431.0) scale(0.85,1)" font-size="8.7" fill="#1a1a1a">HT</text>
<text transform="translate(486,121.5) scale(0.88,1)" font-size="16.0" fill="#ffffff">PL</text>
<text transform="translate(472,195.5) scale(0.9,1)" font-size="13.1" fill="#ffffff">TO</text>
<text transform="translate(463,209.0) scale(0.9,1)" font-size="11.6" fill="#ffffff">ZZ</text>
<rect x="456.7" y="210.8" width="12.5" height="0.8" fill="#ffffff"/>
<text transform="translate(457,232.5) scale(0.91,1)" font-size="10.2" fill="#ffffff">HG</text>
<text transform="translate(463,269.8) scale(0.9,1)" font-size="16.7" fill="#ffffff">P</text>
<rect x="458.1" y="272.3" width="9.8" height="1.0" fill="#ffffff"/>
<text transform="translate(442,278.5) scale(0.91,1)" font-size="10.2" fill="#ffffff">HG</text>
<text transform="translate(494,189.0) scale(0.9,1)" font-size="14.5" fill="#1a1a1a">GR</text>
<text transform="translate(517,198.5) scale(0.9,1)" font-size="16.0" fill="#1a1a1a">PA</text>
<text transform="translate(537,197.0) scale(0.9,1)" font-size="11.6" fill="#1a1a1a">SA</text>
<text transform="translate(562,218.5) scale(0.9,1)" font-size="13.1" fill="#1a1a1a">HR</text>
<text transform="translate(503.4,218.2) scale(0.88,1)" font-size="15.3" fill="#ffffff">PL</text>
<text transform="translate(533,229.0) scale(0.82,1)" font-size="20.3" fill="#ffffff">RA</text>
<text transform="translate(484,240.5) scale(0.9,1)" font-size="18.9" fill="#ffffff">JN</text>
<text transform="translate(516.6,256.2) scale(0.9,1)" font-size="24.0" fill="#ffffff">HL</text>
<text transform="translate(559,269.5) scale(0.9,1)" font-size="16.0" fill="#ffffff">TO</text>
<text transform="translate(551,288.5) scale(0.91,1)" font-size="13.1" fill="#ffffff">HG</text>
<text transform="translate(548.75,151.3) scale(0.86,1)" font-size="49.1" fill="#ffffff">LX</text>
<text transform="translate(683,192.2) scale(0.835,1)" font-size="61.8" fill="#ffffff">PC</text>
<text transform="translate(620.6,277.4) scale(0.79,1)" font-size="52.3" fill="#ffffff">SR</text>
<text transform="translate(698,341.2) scale(1.0,1)" font-size="50.9" fill="#ffffff">KQ</text>
<text transform="translate(717,447.0) scale(0.88,1)" font-size="23.3" fill="#ffffff">RV</text>
<text transform="translate(721,556.5) scale(1.0,1)" font-size="28.3" fill="#ffffff">MB</text>
<text transform="translate(721.5,593.0) scale(0.86,1)" font-size="31.3" fill="#ffffff">RG</text>
<text transform="translate(462.5,329.8) scale(0.9,1)" font-size="21.1" fill="#1a1a1a">PX</text>
<text transform="translate(508,319.9) scale(0.88,1)" font-size="30.5" fill="#1a1a1a">AR</text>
<text transform="translate(448,368.0) scale(0.9,1)" font-size="26.2" fill="#1a1a1a">PG</text>
<text transform="translate(550,351.0) scale(0.85,1)" font-size="32.0" fill="#1a1a1a">PJ</text>
<text transform="translate(591,335.1) scale(0.89,1)" font-size="27.6" fill="#1a1a1a">CP</text>
<text transform="translate(627.5,360.2) scale(1.03,1)" font-size="22.5" fill="#1a1a1a">CQ</text>
<text transform="translate(645,397.0) scale(0.94,1)" font-size="32.0" fill="#ffffff">HS</text>
<rect x="624.5" y="401.8" width="40.9" height="2.0" fill="#ffffff"/>
<text transform="translate(680,421.0) scale(0.96,1)" font-size="14.5" fill="#1a1a1a">AZ</text>
<text transform="translate(681,457.0) scale(0.85,1)" font-size="17.4" fill="#1a1a1a">HT</text>
<text transform="translate(608.75,448.8) scale(1.03,1)" font-size="32.7" fill="#1a1a1a">CQ</text>
<text transform="translate(642,497.5) scale(0.96,1)" font-size="36.3" fill="#1a1a1a">AZ</text>
<text transform="translate(550,401.0) scale(0.89,1)" font-size="37.8" fill="#1a1a1a">CP</text>
<text transform="translate(474.4,402.5) scale(1.0,1)" font-size="27.6" fill="#1a1a1a">PI</text>
<rect x="461.6" y="406.7" width="25.6" height="1.7" fill="#1a1a1a"/>
<text transform="translate(513,433.2) scale(0.85,1)" font-size="29.8" fill="#1a1a1a">PJ</text>
<text transform="translate(460,438.0) scale(0.92,1)" font-size="17.4" fill="#1a1a1a">NK</text>
<text transform="translate(475.5,457.8) scale(1.0,1)" font-size="18.2" fill="#1a1a1a">PI</text>
<rect x="467.1" y="460.5" width="16.8" height="1.1" fill="#1a1a1a"/>
<text transform="translate(498.75,492.8) scale(1.0,1)" font-size="16.7" fill="#1a1a1a">BA</text>
<text transform="translate(538,503.8) scale(0.89,1)" font-size="25.4" fill="#1a1a1a">BG</text>
<text transform="translate(465,492.0) scale(0.9,1)" font-size="17.4" fill="#1a1a1a">CJ</text>
<text transform="translate(438.75,494.0) scale(0.88,1)" font-size="15.3" fill="#1a1a1a">AR</text>
<text transform="translate(477,508.0) scale(0.9,1)" font-size="14.5" fill="#1a1a1a">BP</text>
<text transform="translate(502,529.2) scale(0.9,1)" font-size="15.3" fill="#ffffff">DS</text>
<text transform="translate(455.6,519.4) scale(0.89,1)" font-size="15.6" fill="#1a1a1a">CP</text>
<text transform="translate(434,507.0) scale(0.85,1)" font-size="11.6" fill="#1a1a1a">PJ</text>
<text transform="translate(671,547.8) scale(0.9,1)" font-size="16.7" fill="#1a1a1a">BB</text>
<text transform="translate(562,580.1) scale(1.03,1)" font-size="18.9" fill="#1a1a1a">CQ</text>
<text transform="translate(620,609.7) scale(0.89,1)" font-size="34.9" fill="#1a1a1a">BG</text>
<text transform="translate(548,613.0) scale(0.85,1)" font-size="17.4" fill="#1a1a1a">PJ</text>
<text transform="translate(595,656.1) scale(0.89,1)" font-size="30.5" fill="#1a1a1a">CP</text>
<text transform="translate(659,637.0) scale(0.95,1)" font-size="23.3" fill="#ffffff">GI</text>
<text transform="translate(621,679.0) scale(0.95,1)" font-size="23.3" fill="#ffffff">GI</text>
<text transform="translate(693,628.5) scale(1.0,1)" font-size="21.8" fill="#1a1a1a">BA</text>
<text transform="translate(701,655.0) scale(0.88,1)" font-size="14.5" fill="#1a1a1a">AR</text>
<text transform="translate(682,672.5) scale(1.0,1)" font-size="16.0" fill="#1a1a1a">BA</text>
<text transform="translate(650,659.0) scale(0.9,1)" font-size="11.6" fill="#ffffff">CW</text>
<rect x="641.5" y="660.8" width="17.1" height="0.8" fill="#ffffff"/>
<text transform="translate(649,690.5) scale(0.9,1)" font-size="16.0" fill="#1a1a1a">CJ</text>
<text transform="translate(624,711.5) scale(0.9,1)" font-size="18.9" fill="#1a1a1a">LU</text>
<text transform="translate(701,712.5) scale(1.0,1)" font-size="27.6" fill="#ffffff">MB</text>
<text transform="translate(559,723.0) scale(0.9,1)" font-size="17.4" fill="#ffffff">GD</text>
<text transform="translate(554.6,691.4) scale(0.94,1)" font-size="20.3" fill="#ffffff">FF</text>
<text transform="translate(544,664.9) scale(0.9,1)" font-size="18.2" fill="#ffffff">VA</text>
<text transform="translate(531,632.5) scale(0.85,1)" font-size="13.1" fill="#1a1a1a">HT</text>
<text transform="translate(436.5,556.2) scale(0.9,1)" font-size="6.5" fill="#1a1a1a">TM</text>
<rect x="432.3" y="557.2" width="8.3" height="0.8" fill="#1a1a1a"/>
<text transform="translate(469.5,569.0) scale(0.9,1)" font-size="8.7" fill="#1a1a1a">TC</text>
<text transform="translate(463.5,614.2) scale(0.9,1)" font-size="7.3" fill="#1a1a1a">TC</text>
<text transform="translate(498.75,635.0) scale(0.9,1)" font-size="8.7" fill="#ffffff">IM</text>
<rect x="494.5" y="636.3" width="8.5" height="0.8" fill="#ffffff"/>
<text transform="translate(472.5,630.2) scale(0.9,1)" font-size="8.0" fill="#1a1a1a">TM</text>
<rect x="467.4" y="631.5" width="10.2" height="0.8" fill="#1a1a1a"/>
<text transform="translate(437,599.2) scale(0.9,1)" font-size="7.3" fill="#1a1a1a">TM</text>
<rect x="432.4" y="600.4" width="9.3" height="0.8" fill="#1a1a1a"/>
<text transform="translate(484,607.0) scale(0.9,1)" font-size="7.3" fill="#ffffff">RC</text>
<text transform="translate(512.5,670.1) scale(0.95,1)" font-size="16.7" fill="#ffffff">GI</text>
<text transform="translate(485.6,675.1) scale(0.9,1)" font-size="16.7" fill="#ffffff">RC</text>
<text transform="translate(524,688.5) scale(0.9,1)" font-size="13.1" fill="#ffffff">WW</text>
<rect x="513.1" y="690.5" width="21.8" height="0.8" fill="#ffffff"/>
<text transform="translate(522,712.5) scale(0.9,1)" font-size="13.1" fill="#ffffff">CW</text>
<rect x="512.4" y="714.5" width="19.2" height="0.8" fill="#ffffff"/>
<text transform="translate(492,701.5) scale(0.9,1)" font-size="13.1" fill="#ffffff">DS</text>
<text transform="translate(454,724.0) scale(1.0,1)" font-size="23.3" fill="#ffffff">MB</text>
<text transform="translate(553.5,772.0) scale(0.89,1)" font-size="40.7" fill="#ffffff">TU</text>
<text transform="translate(696,823.0) scale(0.88,1)" font-size="61.0" fill="#ffffff">HE</text>
<text transform="translate(569,848.0) scale(0.98,1)" font-size="32.0" fill="#ffffff">MG</text>
<text transform="translate(704,911.8) scale(0.94,1)" font-size="44.3" fill="#1a1a1a">WI</text>
<rect x="679.1" y="918.5" width="49.9" height="2.7" fill="#1a1a1a"/>
<text transform="translate(545.6,948.4) scale(0.86,1)" font-size="66.9" fill="#1a1a1a">LV</text>
<text transform="translate(517,811.5) scale(0.88,1)" font-size="18.9" fill="#ffffff">HE</text>
<text transform="translate(528.75,561.4) scale(0.94,1)" font-size="16.7" fill="#ffffff">FF</text>
<text transform="translate(506,547.0) scale(0.9,1)" font-size="12.4" fill="#ffffff">CW</text>
<rect x="496.9" y="548.9" width="18.2" height="0.8" fill="#ffffff"/>
<text transform="translate(472.5,546.0) scale(0.94,1)" font-size="13.1" fill="#ffffff">HS</text>
<rect x="464.1" y="548.0" width="16.7" height="0.8" fill="#ffffff"/>
<text transform="translate(530,581.8) scale(0.9,1)" font-size="13.8" fill="#ffffff">CX</text>
<text transform="translate(510,593.8) scale(0.9,1)" font-size="14.5" fill="#ffffff">RC</text>
<text transform="translate(526.5,607.8) scale(0.9,1)" font-size="13.8" fill="#ffffff">CX</text>
<text transform="translate(516,620.5) scale(0.94,1)" font-size="13.1" fill="#ffffff">FF</text>
<text transform="translate(492.75,620.8) scale(0.9,1)" font-size="13.8" fill="#ffffff">CX</text>
<text transform="translate(486.75,583.2) scale(0.9,1)" font-size="13.1" fill="#ffffff">G</text>
<text transform="translate(489.75,566.0) scale(0.9,1)" font-size="11.6" fill="#ffffff">VA</text>
<text transform="translate(452,555.5) scale(0.9,1)" font-size="10.2" fill="#1a1a1a">BB</text>
<text transform="translate(453.75,573.2) scale(0.9,1)" font-size="10.2" fill="#1a1a1a">OC</text>
<text transform="translate(447,585.8) scale(0.9,1)" font-size="9.4" fill="#1a1a1a">RY</text>
<text transform="translate(471.75,588.2) scale(0.9,1)" font-size="10.2" fill="#1a1a1a">RY</text>
<text transform="translate(453,599.0) scale(0.9,1)" font-size="11.6" fill="#1a1a1a">TG</text>
<text transform="translate(471.75,605.2) scale(0.9,1)" font-size="10.2" fill="#1a1a1a">YX</text>
<text transform="translate(493.5,598.0) scale(0.9,1)" font-size="11.6" fill="#1a1a1a">DI</text>
<text transform="translate(433.5,615.5) scale(0.9,1)" font-size="13.1" fill="#1a1a1a">DI</text>
<text transform="translate(441.75,627.8) scale(0.9,1)" font-size="11.6" fill="#ffffff">RC</text>
<text transform="translate(459,627.0) scale(0.9,1)" font-size="11.6" fill="#ffffff">G</text>
<text transform="translate(457,652.5) scale(0.9,1)" font-size="13.1" fill="#1a1a1a">BB</text>
<text transform="translate(461.5,665.5) scale(0.96,1)" font-size="8.7" fill="#1a1a1a">AZ</text>
<text transform="translate(450.5,674.2) scale(0.95,1)" font-size="9.4" fill="#ffffff">GI</text>
<text transform="translate(457.5,691.8) scale(0.9,1)" font-size="10.9" fill="#ffffff">AA</text>
<text transform="translate(477.5,689.8) scale(0.9,1)" font-size="10.9" fill="#ffffff">BY</text>
<text transform="translate(437.5,687.2) scale(0.9,1)" font-size="8.0" fill="#ffffff">XX</text>
<text transform="translate(433,678.0) scale(0.9,1)" font-size="8.7" fill="#ffffff">VA</text>
<text transform="translate(545,542.5) scale(0.85,1)" font-size="14.5" fill="#1a1a1a">PJ</text>
<text transform="translate(434,656.0) scale(0.85,1)" font-size="14.5" fill="#1a1a1a">HT</text>
<text transform="translate(127,610.5) scale(1.0,1)" font-size="21.8" fill="#ffffff">MB</text>
<text transform="translate(141,725.0) scale(0.89,1)" font-size="43.6" fill="#ffffff">TU</text>
<text transform="translate(194,802.0) scale(0.88,1)" font-size="52.3" fill="#ffffff">HE</text>
<text transform="translate(150,866.0) scale(0.98,1)" font-size="49.4" fill="#ffffff">MG</text>
<text transform="translate(150,942.8) scale(0.94,1)" font-size="40.0" fill="#1a1a1a">WI</text>
<rect x="127.5" y="948.8" width="45.0" height="2.5" fill="#1a1a1a"/>
<text transform="translate(321,943.5) scale(0.83,1)" font-size="65.4" fill="#1a1a1a">LI</text>
<text transform="translate(331,803.5) scale(0.88,1)" font-size="21.8" fill="#ffffff">HE</text>
<text transform="translate(175,593.6) scale(0.96,1)" font-size="23.3" fill="#1a1a1a">AZ</text>
<text transform="translate(179,622.0) scale(1.03,1)" font-size="17.4" fill="#1a1a1a">CQ</text>
<text transform="translate(217,597.0) scale(0.85,1)" font-size="17.4" fill="#1a1a1a">PJ</text>
<text transform="translate(242,556.5) scale(0.89,1)" font-size="18.9" fill="#1a1a1a">BG</text>
<text transform="translate(277,602.2) scale(0.85,1)" font-size="29.8" fill="#1a1a1a">PJ</text>
<text transform="translate(220,656.0) scale(0.89,1)" font-size="29.1" fill="#1a1a1a">CP</text>
<text transform="translate(194,685.0) scale(0.9,1)" font-size="14.5" fill="#ffffff">IM</text>
<rect x="186.9" y="687.2" width="14.2" height="0.9" fill="#ffffff"/>
<text transform="translate(265,696.0) scale(0.94,1)" font-size="20.3" fill="#ffffff">HS</text>
<rect x="252.0" y="699.1" width="26.0" height="1.3" fill="#ffffff"/>
<text transform="translate(204,720.0) scale(0.95,1)" font-size="11.6" fill="#ffffff">GI</text>
<text transform="translate(224,747.0) scale(0.9,1)" font-size="14.5" fill="#ffffff">GD</text>
<text transform="translate(252,729.5) scale(0.9,1)" font-size="16.0" fill="#ffffff">RC</text>
<text transform="translate(282,733.5) scale(0.9,1)" font-size="13.1" fill="#ffffff">WW</text>
<rect x="271.1" y="735.5" width="21.8" height="0.8" fill="#ffffff"/>
<text transform="translate(257,764.0) scale(0.9,1)" font-size="14.5" fill="#ffffff">CW</text>
<rect x="246.3" y="766.2" width="21.4" height="0.9" fill="#ffffff"/>
<text transform="translate(281,776.0) scale(0.94,1)" font-size="14.5" fill="#ffffff">HS</text>
<rect x="271.7" y="778.2" width="18.6" height="0.9" fill="#ffffff"/>
<text transform="translate(301,571.0) scale(0.88,1)" font-size="14.5" fill="#1a1a1a">AR</text>
<text transform="translate(307.5,638.5) scale(1.03,1)" font-size="27.6" fill="#1a1a1a">CQ</text>
<text transform="translate(313,668.9) scale(0.96,1)" font-size="24.0" fill="#1a1a1a">AZ</text>
<text transform="translate(327,698.0) scale(0.9,1)" font-size="17.4" fill="#ffffff">VA</text>
<text transform="translate(298,717.5) scale(0.85,1)" font-size="18.9" fill="#1a1a1a">HT</text>
<text transform="translate(373,688.8) scale(0.9,1)" font-size="16.7" fill="#ffffff">BY</text>
<text transform="translate(381,713.5) scale(0.9,1)" font-size="21.8" fill="#ffffff">IM</text>
<rect x="370.3" y="716.8" width="21.4" height="1.3" fill="#ffffff"/>
<text transform="translate(410,721.5) scale(0.9,1)" font-size="16.0" fill="#ffffff">XX</text>
<text transform="translate(359.6,740.2) scale(0.9,1)" font-size="15.3" fill="#ffffff">WW</text>
<rect x="346.9" y="742.6" width="25.4" height="0.9" fill="#ffffff"/>
<text transform="translate(309,749.8) scale(0.9,1)" font-size="16.7" fill="#ffffff">RC</text>
<text transform="translate(327,730.0) scale(0.9,1)" font-size="11.6" fill="#ffffff">CX</text>
<text transform="translate(357,766.5) scale(0.9,1)" font-size="13.1" fill="#ffffff">CW</text>
<rect x="347.4" y="768.5" width="19.2" height="0.8" fill="#ffffff"/>
<text transform="translate(337,775.5) scale(0.95,1)" font-size="13.1" fill="#ffffff">GI</text>
<text transform="translate(310,771.5) scale(0.85,1)" font-size="16.0" fill="#1a1a1a">HT</text>
<text transform="translate(335,587.8) scale(0.89,1)" font-size="13.8" fill="#1a1a1a">BG</text>
<text transform="translate(342,607.8) scale(0.89,1)" font-size="16.7" fill="#1a1a1a">CP</text>
<text transform="translate(362,619.0) scale(1.03,1)" font-size="11.6" fill="#1a1a1a">CQ</text>
<text transform="translate(367,636.0) scale(0.85,1)" font-size="11.6" fill="#1a1a1a">HT</text>
<text transform="translate(365,652.5) scale(0.9,1)" font-size="13.1" fill="#ffffff">VA</text>
<text transform="translate(356,668.5) scale(0.95,1)" font-size="13.1" fill="#ffffff">GI</text>
<text transform="translate(371,580.0) scale(0.9,1)" font-size="14.5" fill="#1a1a1a">DI</text>
<text transform="translate(383,666.5) scale(0.9,1)" font-size="16.0" fill="#1a1a1a">DI</text>
<text transform="translate(416,670.0) scale(0.94,1)" font-size="14.5" fill="#ffffff">FF</text>
<text transform="translate(340.5,560.5) scale(0.9,1)" font-size="11.6" fill="#ffffff">VA</text>
<text transform="translate(324,560.0) scale(0.89,1)" font-size="7.3" fill="#1a1a1a">CP</text>
<text transform="translate(321.5,569.2) scale(1.03,1)" font-size="6.5" fill="#1a1a1a">CQ</text>
<text transform="translate(319.5,604.5) scale(0.85,1)" font-size="8.7" fill="#1a1a1a">HT</text>
<text transform="translate(351,575.0) scale(0.95,1)" font-size="11.6" fill="#ffffff">GI</text>
<text transform="translate(377,554.5) scale(0.9,1)" font-size="10.2" fill="#1a1a1a">PH</text>
<rect x="370.8" y="556.0" width="12.5" height="0.8" fill="#1a1a1a"/>
<text transform="translate(400,549.5) scale(0.94,1)" font-size="10.2" fill="#ffffff">HS</text>
<rect x="393.5" y="551.0" width="13.0" height="0.8" fill="#ffffff"/>
<text transform="translate(420.5,544.8) scale(0.9,1)" font-size="9.4" fill="#1a1a1a">TC</text>
<text transform="translate(409,563.5) scale(0.94,1)" font-size="10.2" fill="#ffffff">FF</text>
<text transform="translate(400,580.5) scale(0.9,1)" font-size="10.2" fill="#ffffff">AU</text>
<text transform="translate(393,601.5) scale(0.9,1)" font-size="10.2" fill="#1a1a1a">OC</text>
<text transform="translate(403,624.0) scale(0.9,1)" font-size="11.6" fill="#1a1a1a">YX</text>
<text transform="translate(417,620.0) scale(0.9,1)" font-size="8.7" fill="#1a1a1a">RY</text>
<text transform="translate(403,638.0) scale(0.9,1)" font-size="11.6" fill="#ffffff">G</text>
<text transform="translate(387,586.5) scale(0.9,1)" font-size="10.2" fill="#1a1a1a">TC</text>
<text transform="translate(413,593.0) scale(0.9,1)" font-size="8.7" fill="#ffffff">YW</text>
<text transform="translate(419.5,604.2) scale(0.9,1)" font-size="9.4" fill="#1a1a1a">TG</text>
<text transform="translate(383,619.0) scale(0.9,1)" font-size="5.8" fill="#ffffff">WW</text>
<rect x="378.2" y="619.9" width="9.7" height="0.8" fill="#ffffff"/>
<text transform="translate(384.5,638.6) scale(0.9,1)" font-size="8.7" fill="#1a1a1a">TM</text>
<rect x="378.9" y="639.9" width="11.1" height="0.8" fill="#1a1a1a"/>
<text transform="translate(416,641.2) scale(0.96,1)" font-size="9.4" fill="#1a1a1a">AZ</text>
<text transform="translate(402.5,648.5) scale(0.9,1)" font-size="7.3" fill="#ffffff">CX</text>
<text transform="translate(391,567.2) scale(0.9,1)" font-size="10.2" fill="#ffffff">YW</text>
<text transform="translate(360.6,563.0) scale(0.94,1)" font-size="5.8" fill="#ffffff">HS</text>
<text transform="translate(419.4,513.0) scale(0.9,1)" font-size="8.7" fill="#1a1a1a">BP</text>
<text transform="translate(388.75,532.9) scale(0.88,1)" font-size="6.5" fill="#1a1a1a">AR</text>
<text transform="translate(400.6,526.9) scale(0.9,1)" font-size="7.3" fill="#1a1a1a">PH</text>
<rect x="396.1" y="528.0" width="8.9" height="0.8" fill="#1a1a1a"/>
<text transform="translate(418,531.0) scale(0.9,1)" font-size="8.7" fill="#1a1a1a">SH</text>
<rect x="412.7" y="532.3" width="10.7" height="0.8" fill="#1a1a1a"/>
<text transform="translate(277,793.0) scale(0.9,1)" font-size="11.6" fill="#ffffff">EG</text>
<text transform="translate(288,804.0) scale(0.91,1)" font-size="11.6" fill="#ffffff">HG</text>
<text transform="translate(277,819.0) scale(0.9,1)" font-size="14.5" fill="#ffffff">JN</text>
<text transform="translate(299,824.0) scale(0.82,1)" font-size="11.6" fill="#ffffff">RA</text>
<text transform="translate(263,836.5) scale(0.9,1)" font-size="13.1" fill="#ffffff">ZZ</text>
<rect x="256.0" y="838.5" width="14.1" height="0.8" fill="#ffffff"/>
<text transform="translate(287,845.5) scale(0.9,1)" font-size="13.1" fill="#ffffff">CV</text>
<text transform="translate(257,862.5) scale(0.9,1)" font-size="13.1" fill="#ffffff">TO</text>
<text transform="translate(276,861.0) scale(0.9,1)" font-size="11.6" fill="#ffffff">HL</text>
<text transform="translate(228,919.5) scale(0.91,1)" font-size="18.9" fill="#ffffff">HG</text>
<text transform="translate(214.5,956.0) scale(0.9,1)" font-size="16.0" fill="#ffffff">P</text>
<rect x="209.8" y="958.4" width="9.4" height="1.0" fill="#ffffff"/>
<text transform="translate(293,866.0) scale(0.94,1)" font-size="11.6" fill="#1a1a1a">WI</text>
<rect x="286.5" y="867.8" width="13.1" height="0.8" fill="#1a1a1a"/>
<text transform="translate(340,846.0) scale(0.86,1)" font-size="11.6" fill="#1a1a1a">LV</text>
<text transform="translate(341,820.0) scale(0.91,1)" font-size="11.6" fill="#ffffff">HG</text>
<text transform="translate(361,830.5) scale(0.9,1)" font-size="18.9" fill="#ffffff">P</text>
<rect x="355.4" y="833.4" width="11.1" height="1.2" fill="#ffffff"/>
<text transform="translate(385,838.2) scale(0.9,1)" font-size="13.1" fill="#ffffff">ZZ</text>
<rect x="378.0" y="840.2" width="14.1" height="0.8" fill="#ffffff"/>
<text transform="translate(392.75,880.8) scale(0.9,1)" font-size="16.7" fill="#ffffff">EG</text>
<text transform="translate(406,817.8) scale(0.82,1)" font-size="16.7" fill="#ffffff">RA</text>
<text transform="translate(393.5,793.9) scale(0.9,1)" font-size="13.1" fill="#ffffff">AV</text>
<text transform="translate(416,844.0) scale(0.9,1)" font-size="14.5" fill="#ffffff">AV</text>
<text transform="translate(363,888.5) scale(0.91,1)" font-size="13.1" fill="#ffffff">HG</text>
<text transform="translate(372,906.0) scale(0.9,1)" font-size="14.5" fill="#ffffff">JN</text>
<text transform="translate(396,920.0) scale(0.9,1)" font-size="14.5" fill="#ffffff">TO</text>
<text transform="translate(429,918.0) scale(0.9,1)" font-size="20.3" fill="#ffffff">HL</text>
<text transform="translate(356,859.5) scale(0.9,1)" font-size="10.2" fill="#ffffff">EG</text>
<text transform="translate(418,780.5) scale(0.9,1)" font-size="10.2" fill="#ffffff">JN</text>
<text transform="translate(435.6,767.5) scale(0.82,1)" font-size="8.7" fill="#ffffff">RA</text>
<text transform="translate(403,781.0) scale(0.9,1)" font-size="5.8" fill="#1a1a1a">GR</text>
<text transform="translate(462,804.0) scale(0.9,1)" font-size="5.8" fill="#ffffff">OZ</text>
<rect x="458.4" y="804.9" width="7.1" height="0.8" fill="#ffffff"/>
<text transform="translate(437.4,805.4) scale(0.91,1)" font-size="13.8" fill="#ffffff">HG</text>
<text transform="translate(449,824.8) scale(0.9,1)" font-size="14.5" fill="#ffffff">ZZ</text>
<rect x="441.2" y="827.0" width="15.7" height="0.9" fill="#ffffff"/>
<text transform="translate(440,858.9) scale(0.9,1)" font-size="16.0" fill="#ffffff">MS</text>
<rect x="429.4" y="861.3" width="21.2" height="1.0" fill="#ffffff"/>
<text transform="translate(461,897.5) scale(0.9,1)" font-size="13.1" fill="#ffffff">IV</text>
<rect x="455.5" y="899.5" width="10.9" height="0.8" fill="#ffffff"/>
<text transform="translate(463,780.0) scale(0.9,1)" font-size="14.5" fill="#1a1a1a">PA</text>
<text transform="translate(484,804.0) scale(0.9,1)" font-size="14.5" fill="#1a1a1a">SA</text>
<text transform="translate(490,820.0) scale(0.9,1)" font-size="14.5" fill="#1a1a1a">HR</text>
<text transform="translate(491,864.5) scale(0.9,1)" font-size="18.9" fill="#1a1a1a">KL</text>
<text transform="translate(468,820.0) scale(0.9,1)" font-size="11.6" fill="#1a1a1a">EA</text>
<text transform="translate(485,913.5) scale(0.9,1)" font-size="13.1" fill="#1a1a1a">AL</text>
<text transform="translate(419,872.5) scale(0.88,1)" font-size="13.1" fill="#ffffff">PL</text>
<text transform="translate(317,829.5) scale(0.88,1)" font-size="10.2" fill="#ffffff">PL</text>
<text transform="translate(324,839.0) scale(0.9,1)" font-size="8.7" fill="#ffffff">TO</text>
<text transform="translate(304,845.0) scale(0.9,1)" font-size="8.7" fill="#ffffff">ZZ</text>
<rect x="299.3" y="846.3" width="9.4" height="0.8" fill="#ffffff"/>
<text transform="translate(199,543.0) scale(1.03,1)" font-size="13.1" fill="#1a1a1a">CQ</text>
<rect x="424.3" y="108" width="3.4" height="853.4" fill="#fff"/>
<rect x="106" y="532.8" width="639.3" height="3.5" fill="#fff"/>
<text transform="translate(587.6,548.5) scale(0.89,1)" font-size="34.9" fill="#1a1a1a">CP</text>
<path fill="#1c1c1c" d="M277.3,36 L268.7,36 Q266.5,44.5 253.7,45.6 L253.7,52.6 L266.9,52.6 L266.9,88.8 L277.3,88.8 Z"/>
<text class="b" transform="translate(586.9,89.4) scale(1.0,1)" font-size="77.5">2</text>
<text class="b" transform="translate(67.4,347.6) scale(0.97,1)" font-size="78">A</text>
<text class="b" transform="translate(65.2,776.6) scale(0.95,1)" font-size="79">B</text>
</svg></body></html>
